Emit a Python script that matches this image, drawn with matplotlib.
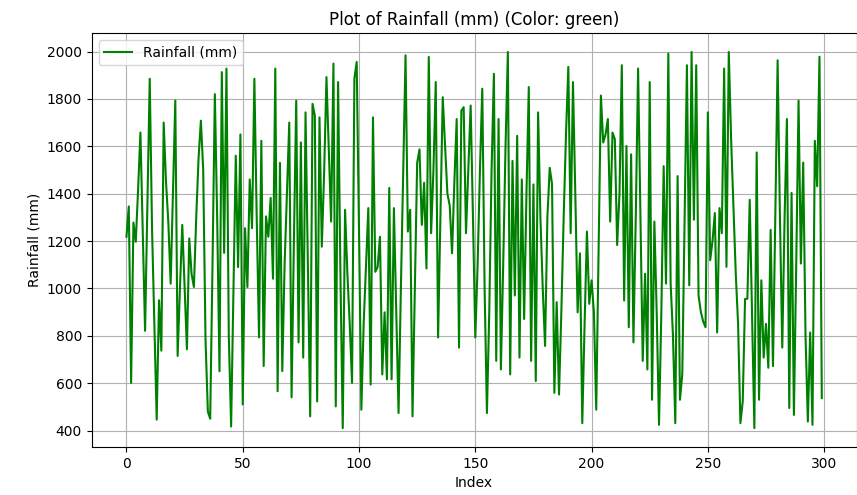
import matplotlib
matplotlib.use("Agg")
import matplotlib.pyplot as plt

# rainfall values, index 0..299
rain_0_49 = [1218, 1346, 601, 1278, 1197, 1417, 1658, 1240, 821, 1346,
             1885, 1250, 850, 446, 950, 737, 1700, 1450, 1280, 1020,
             1400, 1793, 715, 1000, 1268, 1000, 743, 1211, 1060, 1006,
             1300, 1550, 1708, 1500, 780, 480, 450, 1100, 1820, 1300,
             650, 1913, 1150, 1928, 800, 417, 1000, 1560, 1090, 1650]
rain_50_99 = [510, 1254, 1006, 1460, 1254, 1885, 1300, 793, 1623, 672,
              1304, 1218, 1382, 1041, 1928, 566, 1530, 651, 1100, 1400,
              1700, 540, 1200, 1793, 772, 1616, 708, 1743, 1100, 460,
              1779, 1729, 523, 1722, 1176, 1488, 1892, 1587, 1282, 1949,
              502, 1871, 1062, 410, 1332, 1062, 850, 601, 1885, 1956]
rain_100_149 = [1240, 488, 850, 1100, 1339, 594, 1722, 1070, 1090, 1218,
                637, 899, 616, 1424, 616, 1339, 900, 474, 1000, 1500,
                1984, 1240, 1332, 460, 1000, 1530, 1587, 1268, 1446, 1084,
                1977, 1233, 1500, 1871, 793, 1300, 1807, 1600, 1400, 1350,
                1148, 1450, 1715, 750, 1750, 1765, 1233, 1500, 1772, 1300]
rain_150_199 = [793, 1100, 1500, 1843, 1000, 474, 900, 1500, 1906, 694,
                1715, 658, 1100, 1600, 1998, 637, 1538, 970, 1644, 708,
                1460, 871, 1400, 1850, 694, 1439, 609, 1743, 1300, 1000,
                757, 1300, 1509, 1440, 559, 942, 552, 900, 1300, 1650,
                1935, 1233, 1871, 1400, 899, 1148, 431, 850, 1240, 935]
rain_200_249 = [1034, 900, 488, 1150, 1814, 1616, 1650, 1715, 1282, 1658,
                1630, 1183, 1400, 1942, 949, 1601, 836, 1566, 772, 1300,
                1928, 1300, 694, 1062, 658, 1871, 530, 1282, 900, 424,
                900, 1516, 1020, 1991, 1020, 800, 431, 1474, 530, 637,
                1300, 1942, 1013, 1998, 1290, 1942, 970, 900, 860, 836]
rain_250_299 = [1743, 1119, 1200, 1318, 814, 1339, 1233, 1928, 1091, 1998,
                1630, 1350, 1062, 850, 431, 523, 956, 956, 1374, 900,
                410, 1574, 530, 1034, 708, 850, 665, 1247, 672, 1300,
                1963, 1300, 750, 1300, 1715, 495, 1403, 466, 1100, 1793,
                1105, 1531, 800, 438, 814, 424, 1623, 1431, 1978, 537]

rainfall = rain_0_49 + rain_50_99 + rain_100_149 + rain_150_199 + rain_200_249 + rain_250_299
index = list(range(len(rainfall)))

fig = plt.figure(figsize=(8.57, 4.95), dpi=100)
ax = fig.add_subplot(111)
fig.subplots_adjust(left=0.107, right=0.9995, top=0.933, bottom=0.097)

ax.plot(index, rainfall, color='green', label='Rainfall (mm)')
ax.set_title('Plot of Rainfall (mm) (Color: green)')
ax.set_xlabel('Index')
ax.set_ylabel('Rainfall (mm)')
ax.legend(loc='upper left')
ax.grid(True)

fig.savefig('out.png')
